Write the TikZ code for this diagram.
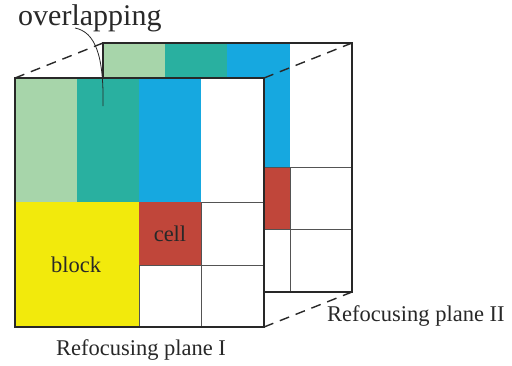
\documentclass[tikz,border=0pt]{standalone}
\usepackage{fontspec}
\setmainfont{Liberation Serif}
\definecolor{lgreen}{RGB}{167,213,170}
\definecolor{teal2}{RGB}{41,176,160}
\definecolor{blue2}{RGB}{22,168,224}
\definecolor{yellow2}{RGB}{242,234,12}
\definecolor{red2}{RGB}{192,70,58}
\definecolor{edge}{RGB}{40,40,40}
\begin{document}
\begin{tikzpicture}[x=1pt,y=-1pt,
  outline/.style={draw=edge,line width=1.6pt},
  grid/.style={draw=edge!80,line width=0.9pt},
  dashline/.style={draw=edge,line width=1.4pt,dash pattern=on 10pt off 7pt},
  lbl/.style={inner sep=0pt,font=\fontsize{22.5}{24}\selectfont,text=edge}]
\useasboundingbox (0,0) rectangle (512,365);
% back plane
\fill[white] (103,43) rectangle (352,292);
\fill[lgreen] (103,43) rectangle (165,167);
\fill[teal2] (165,43) rectangle (227,167);
\fill[blue2] (227,43) rectangle (290,167);
\fill[red2] (227,167) rectangle (290,229);
\draw[grid] (227,167) -- (352,167);
\draw[grid] (227,229) -- (352,229);
\draw[grid] (290,167) -- (290,292);
\draw[outline] (103,78) -- (103,43) -- (352,43) -- (352,292) -- (264,292);
% dashed edges
\draw[dashline] (15,78) -- (103,43);
\draw[dashline] (264,78) -- (352,43);
\draw[dashline] (264,327) -- (352,292);
% front plane
\fill[white] (15,78) rectangle (264,327);
\fill[lgreen] (15,78) rectangle (77,202);
\fill[teal2] (77,78) rectangle (139,202);
\fill[blue2] (139,78) rectangle (201,202);
\fill[yellow2] (15,202) rectangle (139,327);
\fill[red2] (139,202) rectangle (201,265);
\draw[grid] (201,202) -- (264,202);
\draw[grid] (139,265) -- (264,265);
\draw[grid] (201,202) -- (201,327);
\draw[grid] (139,265) -- (139,327);
\draw[outline] (15,78) rectangle (264,327);
% labels
\node[lbl,font=\fontsize{30}{32}\selectfont,anchor=base west] (ov) at (18,25) {overlapping};
\node[lbl] (blk) at (76,265) {block};
\node[lbl] (cel) at (170,234) {cell};
\node[lbl,anchor=base] (p1) at (141,355) {Refocusing plane I};
\node[lbl,anchor=base west] (p2) at (327,321) {Refocusing plane II};
\coordinate (ovend) at (103,106);
\coordinate (ovstart) at (75,28);
\draw[edge,line width=0.8pt] (ovstart) .. controls (95,32) and (104,55) .. (ovend);
\end{tikzpicture}
\end{document}
